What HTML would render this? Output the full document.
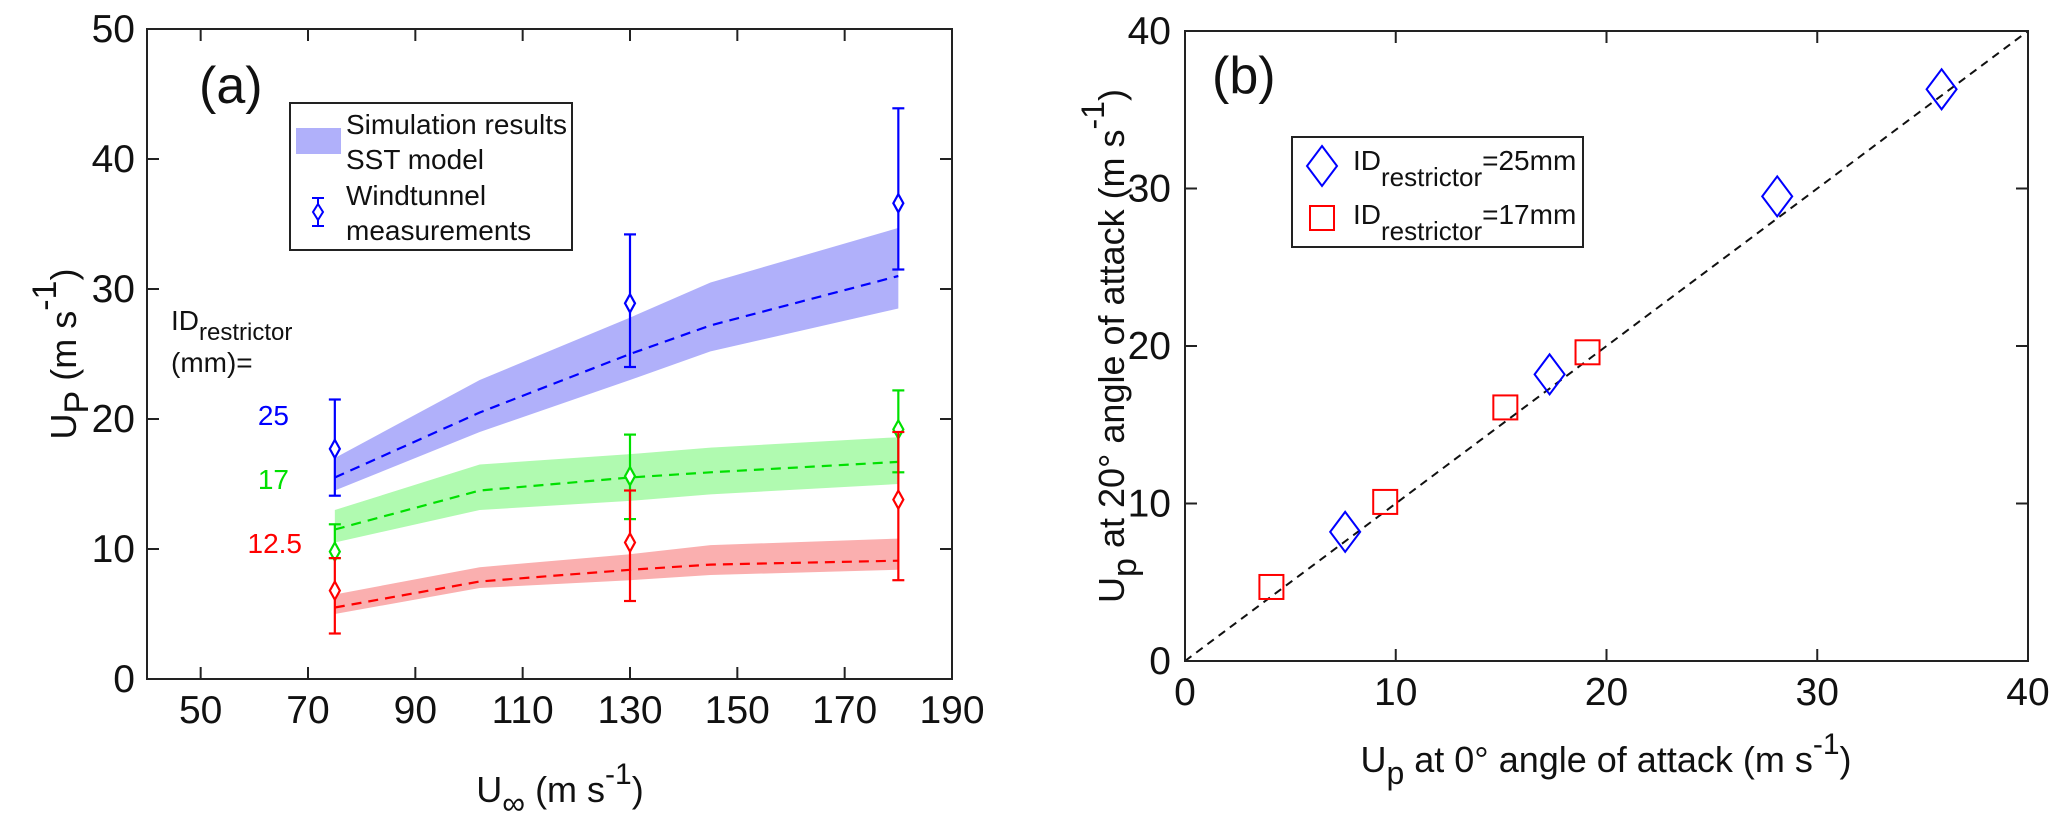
<!DOCTYPE html>
<html><head><meta charset="utf-8"><style>
html,body{margin:0;padding:0;background:#fff;}
svg{display:block;}
.tk{font-family:"Liberation Sans Narrow","Liberation Sans",sans-serif;font-size:39px;fill:#111;}
.lab{font-family:"Liberation Sans",sans-serif;font-size:36px;fill:#111;}
.lg{font-family:"Liberation Sans Narrow","Liberation Sans",sans-serif;font-size:28px;fill:#111;}
</style></head><body>
<svg id="fig" width="2067" height="830" viewBox="0 0 2067 830" xmlns="http://www.w3.org/2000/svg">
<g id="pa"></g>
<g id="pb"></g>
</svg>
<script>
// ---- Panel (a) data ----
const bandX = [75, 102, 130, 145, 180];
const blueMid = [15.5, 20.5, 25, 27.2, 31];
const blueHi = [17, 23, 27.8, 30.5, 34.7];
const blueLo = [14.5, 19, 23, 25.2, 28.5];
const greenMid = [11.5, 14.5, 15.5, 15.9, 16.7];
const greenHi = [13, 16.5, 17.3, 17.8, 18.6];
const greenLo = [10.5, 13, 13.7, 14.2, 15];
const redMid = [5.5, 7.5, 8.4, 8.8, 9.1];
const redHi = [6.5, 8.6, 9.6, 10.3, 10.8];
const redLo = [5, 7, 7.6, 8, 8.4];
const measX = [75, 130, 180];
const blueMeas = [17.7, 28.9, 36.6];
const blueErrLo = [14.1, 24, 31.5];
const blueErrHi = [21.5, 34.2, 43.9];
const greenMeas = [9.8, 15.6, 19.2];
const greenErrLo = [9.3, 12.3, 15.9];
const greenErrHi = [11.9, 18.8, 22.2];
const redMeas = [6.8, 10.5, 13.8];
const redErrLo = [3.5, 6, 7.6];
const redErrHi = [9.3, 14.5, 19];
const aXTicks = [50, 70, 90, 110, 130, 150, 170, 190];
const aYTicks = [0, 10, 20, 30, 40, 50];
// ---- Panel (b) data ----
const d25x = [7.6, 17.3, 28.1, 35.9];
const d25y = [8.2, 18.2, 29.5, 36.3];
const s17x = [4.1, 9.5, 15.2, 19.1];
const s17y = [4.7, 10.1, 16.1, 19.6];
const bTicks = [0, 10, 20, 30, 40];

const NS = "http://www.w3.org/2000/svg";
function mk(parent, tag, attrs, text){
  const e = document.createElementNS(NS, tag);
  for (const k in attrs) e.setAttribute(k, attrs[k]);
  if (text !== undefined) e.textContent = text;
  parent.appendChild(e);
  return e;
}
// ---------- Panel A ----------
const pa = document.getElementById('pa');
const aL=147, aR=952, aT=29, aB=679;
const ax = v => aL + (v-40)/(190-40)*(aR-aL);
const ay = v => aB - v/50*(aB-aT);

function band(hi, lo, fill, name){
  let d = "M" + bandX.map((x,i)=>ax(x)+","+ay(hi[i])).join(" L");
  d += " L" + bandX.slice().reverse().map((x,j)=>{const i=bandX.length-1-j;return ax(x)+","+ay(lo[i]);}).join(" L") + " Z";
  const p = mk(pa,'path',{d:d, fill:fill, stroke:'none'});
  
  
}
function midline(mid, col, name){
  const p = mk(pa,'polyline',{points: bandX.map((x,i)=>ax(x)+","+ay(mid[i])).join(" "), fill:'none', stroke:col, 'stroke-width':2.2, 'stroke-dasharray':'10,7'});
  
  
}
function meas(vals, lo, hi, col, name){
  measX.forEach((x,i)=>{
    const g = mk(pa,'g',{stroke:col,'stroke-width':2.2,fill:'none'});
    
    
    const cx = ax(x);
    mk(g,'line',{x1:cx,x2:cx,y1:ay(lo[i]),y2:ay(hi[i])});
    mk(g,'line',{x1:cx-6,x2:cx+6,y1:ay(lo[i]),y2:ay(lo[i])});
    mk(g,'line',{x1:cx-6,x2:cx+6,y1:ay(hi[i]),y2:ay(hi[i])});
    const cy = ay(vals[i]);
    mk(g,'path',{d:`M${cx},${cy-9} L${cx+5},${cy} L${cx},${cy+9} L${cx-5},${cy} Z`, fill:'#fff'});
  });
}
band(blueHi, blueLo, '#b0b0fa', 'band-25mm');
band(greenHi, greenLo, '#b0fab0', 'band-17mm');
band(redHi, redLo, '#faafaf', 'band-12-5mm');
midline(blueMid, '#0000ff', 'line-25mm');
midline(greenMid, '#00e000', 'line-17mm');
midline(redMid, '#ff0000', 'line-12-5mm');
meas(blueMeas, blueErrLo, blueErrHi, '#0000ff', 'meas-25mm');
meas(greenMeas, greenErrLo, greenErrHi, '#00e000', 'meas-17mm');
meas(redMeas, redErrLo, redErrHi, '#ff0000', 'meas-12-5mm');

const fa = mk(pa,'rect',{x:aL,y:aT,width:aR-aL,height:aB-aT,fill:'none',stroke:'#222','stroke-width':2});


aXTicks.forEach(v=>{
  const x = ax(v);
  mk(pa,'line',{x1:x,x2:x,y1:aB,y2:aB-12,stroke:'#222','stroke-width':2});
  mk(pa,'line',{x1:x,x2:x,y1:aT,y2:aT+12,stroke:'#222','stroke-width':2});
  const t = mk(pa,'text',{x:x,y:aB+44,'text-anchor':'middle',class:'tk'}, String(v));
  
  
});
aYTicks.forEach(v=>{
  const y = ay(v);
  mk(pa,'line',{x1:aL,x2:aL+12,y1:y,y2:y,stroke:'#222','stroke-width':2});
  mk(pa,'line',{x1:aR,x2:aR-12,y1:y,y2:y,stroke:'#222','stroke-width':2});
  const t = mk(pa,'text',{x:aL-12,y:y+13,'text-anchor':'end',class:'tk'}, String(v));
  
  
});

// ---------- Panel B ----------
const pb = document.getElementById('pb');
const bL=1185, bR=2028, bT=31, bB=661;
const bx = v => bL + v/40*(bR-bL);
const by = v => bB - v/40*(bB-bT);
const dl = mk(pb,'line',{x1:bx(0),y1:by(0),x2:bx(40),y2:by(40),stroke:'#111','stroke-width':2,'stroke-dasharray':'8,6'});


d25x.forEach((v,i)=>{
  const cx=bx(v), cy=by(d25y[i]);
  const p = mk(pb,'path',{d:`M${cx},${cy-20} L${cx+15},${cy} L${cx},${cy+20} L${cx-15},${cy} Z`,fill:'none',stroke:'#0000ff','stroke-width':2});
  
  
});
s17x.forEach((v,i)=>{
  const cx=bx(v), cy=by(s17y[i]);
  const p = mk(pb,'rect',{x:cx-12,y:cy-12,width:24,height:24,fill:'none',stroke:'#ff0000','stroke-width':2});
  
  
});
const fb = mk(pb,'rect',{x:bL,y:bT,width:bR-bL,height:bB-bT,fill:'none',stroke:'#222','stroke-width':2});


bTicks.forEach(v=>{
  const x=bx(v), y=by(v);
  mk(pb,'line',{x1:x,x2:x,y1:bB,y2:bB-12,stroke:'#222','stroke-width':2});
  mk(pb,'line',{x1:x,x2:x,y1:bT,y2:bT+12,stroke:'#222','stroke-width':2});
  mk(pb,'line',{x1:bL,x2:bL+12,y1:y,y2:y,stroke:'#222','stroke-width':2});
  mk(pb,'line',{x1:bR,x2:bR-12,y1:y,y2:y,stroke:'#222','stroke-width':2});
  const t1 = mk(pb,'text',{x:x,y:bB+44,'text-anchor':'middle',class:'tk'}, String(v));
  
  
  const t2 = mk(pb,'text',{x:bL-14,y:y+13,'text-anchor':'end',class:'tk'}, String(v));
  
  
});
</script>
<svg width="2067" height="830" viewBox="0 0 2067 830" style="position:absolute;left:0;top:0" xmlns="http://www.w3.org/2000/svg">
  <text x="199" y="103" font-family="Liberation Sans Narrow, Liberation Sans, sans-serif" font-size="52" fill="#111">(a)</text>
  <g>
    <rect x="290" y="103" width="282" height="147" fill="#fff" stroke="#222" stroke-width="2"/>
    <rect x="296" y="128" width="45" height="26" fill="#b0b0fa"/>
    <text x="346" y="134" class="lg">Simulation results</text>
    <text x="346" y="169" class="lg">SST model</text>
    <g stroke="#0000ff" stroke-width="2" fill="#fff">
      <line x1="318" x2="318" y1="198" y2="226"/><line x1="312" x2="324" y1="198" y2="198"/><line x1="312" x2="324" y1="226" y2="226"/>
      <path d="M318,204 L323,212 L318,220 L313,212 Z"/>
    </g>
    <text x="346" y="205" class="lg">Windtunnel</text>
    <text x="346" y="240" class="lg">measurements</text>
  </g>
  <text x="171" y="330" class="lg" font-size="32">ID<tspan font-size="24" dy="10">restrictor</tspan></text>
  <text x="171" y="372" class="lg" font-size="30">(mm)=</text>
  <text x="289" y="425" text-anchor="end" class="lg" font-size="34" style="fill:#0000ff">25</text>
  <text x="289" y="489" text-anchor="end" class="lg" font-size="34" style="fill:#00e000">17</text>
  <text x="302" y="553" text-anchor="end" class="lg" font-size="34" style="fill:#ff0000">12.5</text>
  <text transform="translate(76,354) rotate(-90)" text-anchor="middle" class="lab" font-size="50">U<tspan font-size="34" dy="12">P</tspan><tspan dy="-12"> (m s</tspan><tspan font-size="34" dy="-20">-1</tspan><tspan dy="20">)</tspan></text>
  <text x="560" y="802" text-anchor="middle" class="lab" font-size="44">U<tspan font-size="32" dy="12">∞</tspan><tspan dy="-12"> (m s</tspan><tspan font-size="30" dy="-18">-1</tspan><tspan dy="18">)</tspan></text>

  <text x="1212" y="93" font-family="Liberation Sans Narrow, Liberation Sans, sans-serif" font-size="52" fill="#111">(b)</text>
  <g>
    <rect x="1292" y="137" width="291" height="110" fill="#fff" stroke="#222" stroke-width="2"/>
    <path d="M1322,146 L1337,166 L1322,186 L1307,166 Z" fill="none" stroke="#0000ff" stroke-width="2"/>
    <rect x="1310" y="206" width="24" height="24" fill="none" stroke="#ff0000" stroke-width="2"/>
    <text x="1353" y="170" class="lg" font-size="32">ID<tspan font-size="26" dy="16">restrictor</tspan><tspan dy="-16">=25mm</tspan></text>
    <text x="1353" y="224" class="lg" font-size="32">ID<tspan font-size="26" dy="16">restrictor</tspan><tspan dy="-16">=17mm</tspan></text>
  </g>
  <text transform="translate(1124,346) rotate(-90)" text-anchor="middle" class="lab" font-size="48">U<tspan font-size="34" dy="12">p</tspan><tspan dy="-12"> at 20° angle of attack (m s</tspan><tspan font-size="32" dy="-20">-1</tspan><tspan dy="20">)</tspan></text>
  <text x="1606" y="772" text-anchor="middle" class="lab" font-size="44">U<tspan font-size="32" dy="12">p</tspan><tspan dy="-12"> at 0° angle of attack (m s</tspan><tspan font-size="30" dy="-18">-1</tspan><tspan dy="18">)</tspan></text>
</svg>
</body></html>
